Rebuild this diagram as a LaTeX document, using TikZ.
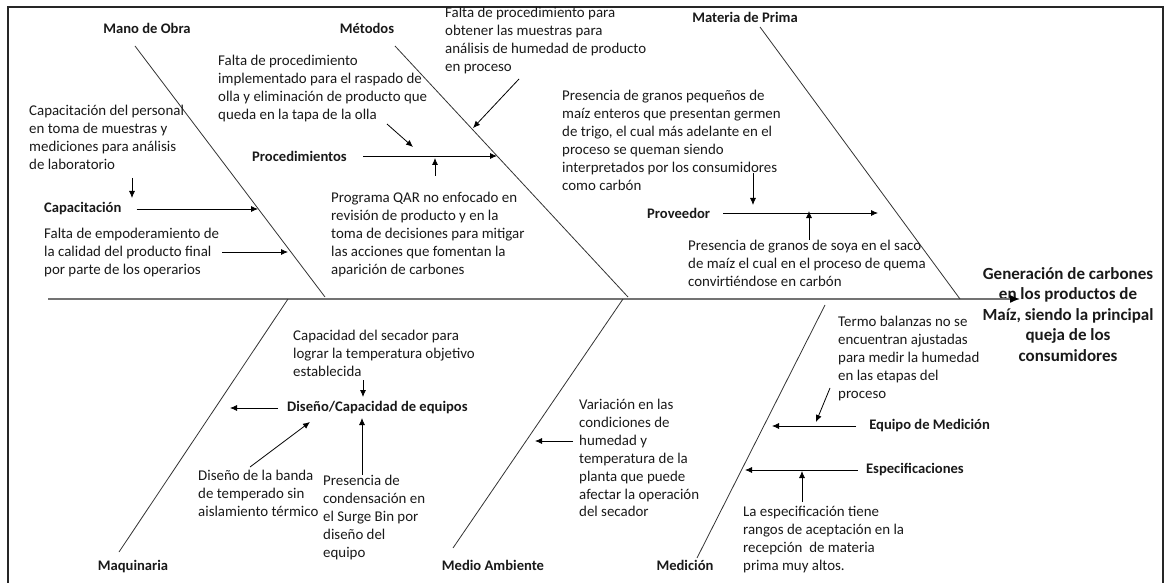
\documentclass[tikz,border=0pt]{standalone}
\usepackage{fontspec}
\setmainfont{Carlito}
\usepackage{tikz}
\usetikzlibrary{arrows}
\usetikzlibrary{arrows.meta}
\usetikzlibrary{positioning}
\newcommand{\cuerpo}{\fontsize{14.6}{17.8}\selectfont}
\newcommand{\texto}{\fontsize{14.9}{17.9}\selectfont}
\newcommand{\efecto}{\fontsize{17}{20.6}\selectfont\bfseries}

\begin{document}
\begin{tikzpicture}
	[x=1pt,y=-1pt,every node/.style={inner sep=0pt,font=\cuerpo,text=black!90},
	 cat/.style={font=\cuerpo\bfseries},
	 nota/.style={anchor=north west,align=left,font=\texto},
	 hueso/.style={line width=.8pt,draw=black!80},
	 flecha/.style={line width=.8pt,draw=black,-{Latex[length=7pt,width=6pt]}}]
	\useasboundingbox (0,0) rectangle (1168,583);
	% marco
	\draw[line width=2pt,black!85] (8,583) -- (8,7) -- (1163,7) -- (1163,583);

	% efecto
	\node[font=\efecto,align=center,anchor=north] (efecto) at (1068,267) {Generación de carbones\\en los productos de\\Maíz, siendo la principal\\queja de los\\consumidores};

	% espina
	\coordinate (e0) at (48,299);
	\coordinate (e1) at (1020,299);
	\draw[line width=1.4pt,black!55,-{Latex[length=10pt,width=8pt,black]}] (e0) -- (e1);

	% categorias
	\node[cat] (mano) at (147,28) {Mano de Obra};
	\node[cat] (metodos) at (367,28) {Métodos};
	\node[cat] (materia) at (745,17) {Materia de Prima};
	\node[cat] (maquinaria) at (133,567) {Maquinaria};
	\node[cat] (ambiente) at (493,565) {Medio Ambiente};
	\node[cat] (medicion) at (685,565) {Medición};

	% huesos
	\coordinate (h1a) at (135,46);  \coordinate (h1b) at (325,297);
	\coordinate (h2a) at (395,46);  \coordinate (h2b) at (628,297);
	\coordinate (h3a) at (760,27);  \coordinate (h3b) at (960,299);
	\coordinate (h4a) at (288,299); \coordinate (h4b) at (119,552);
	\coordinate (h5a) at (623,299); \coordinate (h5b) at (453,548);
	\coordinate (h6a) at (825,305); \coordinate (h6b) at (697,558);
	\foreach \from/\to in {h1a/h1b, h2a/h2b, h3a/h3b, h4a/h4b, h5a/h5b, h6a/h6b}
	\draw[hueso] (\from) -- (\to);

	% subcausas
	\node[cat,anchor=west] (capac) at (44,209) {Capacitación};
	\node[cat,anchor=west] (proc) at (252,156) {Procedimientos};
	\node[cat,anchor=west] (prov) at (647,213) {Proveedor};
	\node[cat,anchor=west] (diseno) at (287,408) {Diseño/Capacidad de equipos};
	\node[cat,anchor=east] (equipo) at (990,426) {Equipo de Medición};
	\node[cat,anchor=east] (espec) at (964,470) {Especificaciones};
	\coordinate (c1) at (258,209);
	\coordinate (c2) at (497,156);
	\coordinate (c3) at (878,213);
	\coordinate (c4) at (230,408);
	\coordinate (c5) at (772,426);
	\coordinate (c6) at (745,470);
	\foreach \from/\to/\gap in {capac.east/c1/15, proc.east/c2/16, prov.east/c3/13,
		diseno.west/c4/9, equipo.west/c5/13, espec.west/c6/8}
	\draw[flecha,shorten <=\gap pt] (\from) -- (\to);

	% notas
	\node[nota] (tcap) at (29,105) {Capacitación del personal\\en toma de muestras y\\mediciones para análisis\\de laboratorio};
	\node[nota] (temp) at (44,228) {Falta de empoderamiento de\\la calidad del producto final\\por parte de los operarios};
	\node[nota] (trasp) at (218,55) {Falta de procedimiento\\implementado para el raspado de\\olla y eliminación de producto que\\queda en la tapa de la olla};
	\node[nota] (tmuest) at (445,7) {Falta de procedimiento para\\obtener las muestras para\\análisis de humedad de producto\\en proceso};
	\node[nota] (tqar) at (331,192) {Programa QAR no enfocado en\\revisión de producto y en la\\toma de decisiones para mitigar\\las acciones que fomentan la\\aparición de carbones};
	\node[nota] (tgranos) at (562,90) {Presencia de granos pequeños de\\maíz enteros que presentan germen\\de trigo, el cual más adelante en el\\proceso se queman siendo\\interpretados por los consumidores\\como carbón};
	\node[nota] (tsoya) at (688,240) {Presencia de granos de soya en el saco\\de maíz el cual en el proceso de quema\\convirtiéndose en carbón};
	\node[nota] (tsecador) at (293,330) {Capacidad del secador para\\lograr la temperatura objetivo\\establecida};
	\node[nota] (tbanda) at (198,470) {Diseño de la banda\\de temperado sin\\aislamiento térmico};
	\node[nota] (tcond) at (323,475) {Presencia de\\condensación en\\el Surge Bin por\\diseño del\\equipo};
	\node[nota] (tvar) at (579,399) {Variación en las\\condiciones de\\humedad y\\temperatura de la\\planta que puede\\afectar la operación\\del secador};
	\node[nota] (ttermo) at (838,316) {Termo balanzas no se\\encuentran ajustadas\\para medir la humedad\\en las etapas del\\proceso};
	\node[nota] (tespec) at (743,506) {La especificación tiene\\rangos de aceptación en la\\recepción\ \ de materia\\prima muy altos.};

	% flechas de las notas
	\coordinate (s1) at (132,178);  \coordinate (f1) at (132,198);
	\coordinate (s2) at (222,252);  \coordinate (f2) at (288,252);
	\coordinate (s3) at (387,124);  \coordinate (f3) at (413,147);
	\coordinate (s4) at (435,176);  \coordinate (f4) at (435,158);
	\coordinate (s5) at (519,79);   \coordinate (f5) at (473,128);
	\coordinate (s6) at (753,173);  \coordinate (f6) at (753,205);
	\coordinate (s7) at (809,240);  \coordinate (f7) at (809,211);
	\coordinate (s8) at (363,380);  \coordinate (f8) at (363,397);
	\coordinate (s9) at (362,475);  \coordinate (f9) at (362,418);
	\coordinate (s10) at (250,467); \coordinate (f10) at (310,422);
	\coordinate (s11) at (573,441); \coordinate (f11) at (535,441);
	\coordinate (s12) at (830,388); \coordinate (f12) at (816,422);
	\coordinate (s13) at (802,502); \coordinate (f13) at (802,471);
	\foreach \i in {1,...,13}
	\draw[flecha] (s\i) -- (f\i);
\end{tikzpicture}
\end{document}
